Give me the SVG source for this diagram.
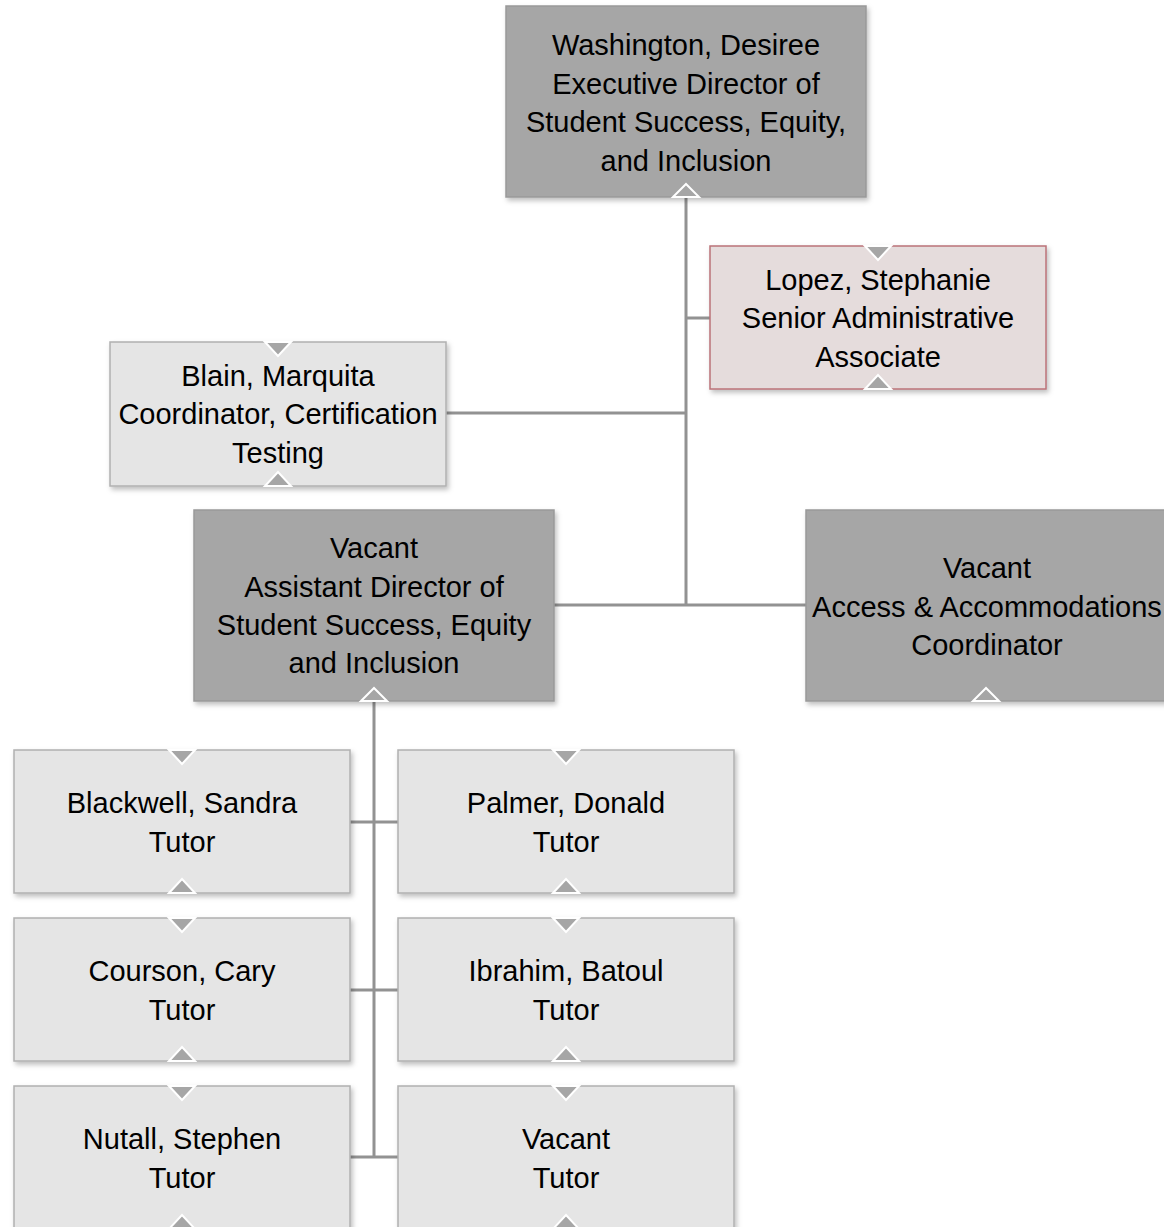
<svg xmlns="http://www.w3.org/2000/svg" width="1164" height="1227" viewBox="0 0 1164 1227">
<defs>
<filter id="sh" x="-10%" y="-10%" width="120%" height="130%">
<feDropShadow dx="2" dy="3" stdDeviation="2.5" flood-color="#000" flood-opacity="0.25"/>
</filter>
</defs>
<style>
.dark{fill:#a6a6a6;stroke:#999999;stroke-width:1.5}
.light{fill:#e5e5e5;stroke:#b0b0b0;stroke-width:1.5}
.pink{fill:#e5dcdc;stroke:#bb7378;stroke-width:1.5}
.tri{fill:#a6a6a6;stroke:#ffffff;stroke-width:2}
.t{font-family:"Liberation Sans",Arial,sans-serif;font-size:29px;fill:#000;text-anchor:middle}
.c{fill:none;stroke:#929292;stroke-width:3}
</style>
<rect width="1164" height="1227" fill="#ffffff"/>
<g id="connectors">
<path class="c" d="M686 197V605M686 318H710M446 413H686M554 605H806"/>
<path class="c" d="M374 701V1157M350 822H398M350 990H398M350 1157H398"/>
</g>
<g id="washington">
<rect class="dark" x="506" y="6" width="360" height="191" filter="url(#sh)"/>
<polygon class="tri" points="673,197 686,184 699,197"/>
<text class="t" x="686" y="55">Washington, Desiree</text>
<text class="t" x="686" y="93.5">Executive Director of</text>
<text class="t" x="686" y="132">Student Success, Equity,</text>
<text class="t" x="686" y="170.5">and Inclusion</text>
</g>
<g id="lopez">
<rect class="pink" x="710" y="246" width="336" height="143" filter="url(#sh)"/>
<polygon class="tri" points="865,246 878,260 891,246"/>
<polygon class="tri" points="865,389 878,375 891,389"/>
<text class="t" x="878" y="290">Lopez, Stephanie</text>
<text class="t" x="878" y="328">Senior Administrative</text>
<text class="t" x="878" y="367">Associate</text>
</g>
<g id="blain">
<rect class="light" x="110" y="342" width="336" height="144" filter="url(#sh)"/>
<polygon class="tri" points="265,342 278,356 291,342"/>
<polygon class="tri" points="265,486 278,472 291,486"/>
<text class="t" x="278" y="386">Blain, Marquita</text>
<text class="t" x="278" y="424">Coordinator, Certification</text>
<text class="t" x="278" y="463">Testing</text>
</g>
<g id="asst-director">
<rect class="dark" x="194" y="510" width="360" height="191" filter="url(#sh)"/>
<polygon class="tri" points="361,701 374,688 387,701"/>
<text class="t" x="374" y="558">Vacant</text>
<text class="t" x="374" y="597">Assistant Director of</text>
<text class="t" x="374" y="635">Student Success, Equity</text>
<text class="t" x="374" y="673">and Inclusion</text>
</g>
<g id="access">
<rect class="dark" x="806" y="510" width="364" height="191" filter="url(#sh)"/>
<polygon class="tri" points="973,701 986,688 999,701"/>
<text class="t" x="987" y="578">Vacant</text>
<text class="t" x="987" y="617">Access &amp; Accommodations</text>
<text class="t" x="987" y="655">Coordinator</text>
</g>
<g id="blackwell">
<rect class="light" x="14" y="750" width="336" height="143" filter="url(#sh)"/>
<polygon class="tri" points="169,750 182,764 195,750"/>
<polygon class="tri" points="169,893 182,879 195,893"/>
<text class="t" x="182" y="813">Blackwell, Sandra</text>
<text class="t" x="182" y="852">Tutor</text>
</g>
<g id="palmer">
<rect class="light" x="398" y="750" width="336" height="143" filter="url(#sh)"/>
<polygon class="tri" points="553,750 566,764 579,750"/>
<polygon class="tri" points="553,893 566,879 579,893"/>
<text class="t" x="566" y="813">Palmer, Donald</text>
<text class="t" x="566" y="852">Tutor</text>
</g>
<g id="courson">
<rect class="light" x="14" y="918" width="336" height="143" filter="url(#sh)"/>
<polygon class="tri" points="169,918 182,932 195,918"/>
<polygon class="tri" points="169,1061 182,1047 195,1061"/>
<text class="t" x="182" y="981">Courson, Cary</text>
<text class="t" x="182" y="1020">Tutor</text>
</g>
<g id="ibrahim">
<rect class="light" x="398" y="918" width="336" height="143" filter="url(#sh)"/>
<polygon class="tri" points="553,918 566,932 579,918"/>
<polygon class="tri" points="553,1061 566,1047 579,1061"/>
<text class="t" x="566" y="981">Ibrahim, Batoul</text>
<text class="t" x="566" y="1020">Tutor</text>
</g>
<g id="nutall">
<rect class="light" x="14" y="1086" width="336" height="160" filter="url(#sh)"/>
<polygon class="tri" points="169,1086 182,1100 195,1086"/>
<polygon class="tri" points="169,1229 182,1215 195,1229"/>
<text class="t" x="182" y="1149">Nutall, Stephen</text>
<text class="t" x="182" y="1188">Tutor</text>
</g>
<g id="vacant-tutor">
<rect class="light" x="398" y="1086" width="336" height="160" filter="url(#sh)"/>
<polygon class="tri" points="553,1086 566,1100 579,1086"/>
<polygon class="tri" points="553,1229 566,1215 579,1229"/>
<text class="t" x="566" y="1149">Vacant</text>
<text class="t" x="566" y="1188">Tutor</text>
</g>
</svg>
